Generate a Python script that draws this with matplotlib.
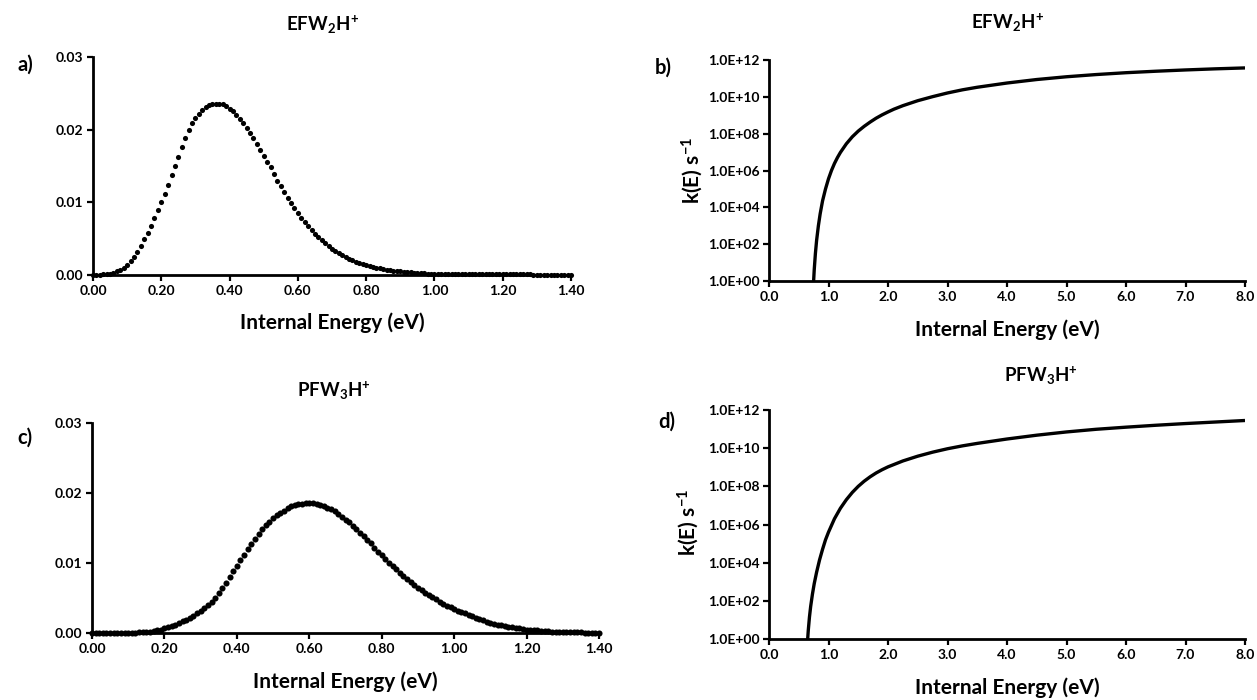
import matplotlib
matplotlib.use("Agg")
import matplotlib.pyplot as plt
import numpy as np
from matplotlib.ticker import FuncFormatter, FixedLocator, NullLocator

plt.rcParams['font.family'] = ['Lato', 'DejaVu Sans']
plt.rcParams['font.weight'] = 'bold'
plt.rcParams['mathtext.fontset'] = 'custom'
plt.rcParams['mathtext.rm'] = 'Lato:bold'
plt.rcParams['mathtext.it'] = 'Lato:bold'
plt.rcParams['mathtext.bf'] = 'Lato:bold'
plt.rcParams['mathtext.default'] = 'rm'

# internal energy distributions, 0.00 .. 1.40 eV in 0.01 eV steps
energy_grid = np.round(np.arange(0, 141) * 0.01, 2)

efw2h_pop = [
    0.0000, 0.0000, 0.0000, 0.0001, 0.0001, 0.0002, 0.0003, 0.0005, 0.0007, 0.0010,
    0.0014, 0.0019, 0.0025, 0.0032, 0.0040, 0.0049, 0.0058, 0.0068, 0.0078, 0.0089,
    0.0100, 0.0112, 0.0124, 0.0137, 0.0150, 0.0163, 0.0176, 0.0188, 0.0200, 0.0209,
    0.0216, 0.0222, 0.0227, 0.0231, 0.0234, 0.0235, 0.0236, 0.0236, 0.0235, 0.0232,
    0.0229, 0.0225, 0.0220, 0.0215, 0.0209, 0.0202, 0.0195, 0.0188, 0.0180, 0.0172,
    0.0164, 0.0156, 0.0148, 0.0139, 0.0130, 0.0122, 0.0114, 0.0106, 0.0099, 0.0092,
    0.0085, 0.0079, 0.0073, 0.0067, 0.0062, 0.0057, 0.0052, 0.0048, 0.0044, 0.0040,
    0.0036, 0.0033, 0.0030, 0.0027, 0.0025, 0.0022, 0.0020, 0.0018, 0.0017, 0.0015,
    0.0014, 0.0012, 0.0011, 0.0010, 0.0009, 0.0008, 0.0007, 0.0007, 0.0006, 0.0005,
    0.0005, 0.0004, 0.0004, 0.0004, 0.0003, 0.0003, 0.0003, 0.0003, 0.0002, 0.0002,
    0.0002, 0.0002, 0.0002, 0.0002, 0.0002, 0.0002, 0.0002, 0.0002, 0.0002, 0.0002,
    0.0002, 0.0002, 0.0001, 0.0001, 0.0001, 0.0001, 0.0001, 0.0001, 0.0001, 0.0001,
    0.0001, 0.0001, 0.0001, 0.0001, 0.0001, 0.0001, 0.0001, 0.0001, 0.0001, 0.0000,
    0.0000, 0.0000, 0.0000, 0.0000, 0.0000, 0.0000, 0.0000, 0.0000, 0.0000, 0.0000,
    0.0000,
]

pfw3h_pop = [
    0.0000, 0.0000, 0.0000, 0.0000, 0.0000, 0.0000, 0.0000, 0.0000, 0.0000, 0.0000,
    0.0000, 0.0000, 0.0000, 0.0001, 0.0001, 0.0002, 0.0002, 0.0003, 0.0004, 0.0005,
    0.0007, 0.0008, 0.0010, 0.0012, 0.0014, 0.0017, 0.0019, 0.0022, 0.0025, 0.0028,
    0.0031, 0.0036, 0.0040, 0.0045, 0.0050, 0.0057, 0.0064, 0.0071, 0.0080, 0.0088,
    0.0096, 0.0104, 0.0112, 0.0120, 0.0127, 0.0134, 0.0141, 0.0148, 0.0154, 0.0159,
    0.0164, 0.0168, 0.0172, 0.0175, 0.0178, 0.0181, 0.0183, 0.0184, 0.0185, 0.0186,
    0.0186, 0.0186, 0.0185, 0.0183, 0.0181, 0.0179, 0.0177, 0.0174, 0.0170, 0.0166,
    0.0162, 0.0158, 0.0153, 0.0148, 0.0143, 0.0138, 0.0133, 0.0128, 0.0122, 0.0116,
    0.0111, 0.0106, 0.0100, 0.0096, 0.0091, 0.0086, 0.0082, 0.0077, 0.0073, 0.0069,
    0.0065, 0.0061, 0.0057, 0.0054, 0.0051, 0.0048, 0.0045, 0.0042, 0.0039, 0.0037,
    0.0034, 0.0032, 0.0030, 0.0028, 0.0026, 0.0024, 0.0022, 0.0020, 0.0018, 0.0016,
    0.0014, 0.0013, 0.0012, 0.0011, 0.0010, 0.0009, 0.0008, 0.0007, 0.0007, 0.0006,
    0.0005, 0.0005, 0.0004, 0.0004, 0.0003, 0.0003, 0.0003, 0.0002, 0.0002, 0.0002,
    0.0001, 0.0001, 0.0001, 0.0001, 0.0001, 0.0001, 0.0000, 0.0000, 0.0000, 0.0000,
    0.0000,
]

# RRKM rate constants, log10 k(E) in s^-1
efw2h_E = [0.75, 0.76, 0.78, 0.80, 0.83, 0.86, 0.90, 0.95, 1.00, 1.05, 1.10, 1.15,
           1.20, 1.30, 1.40, 1.50, 1.60, 1.70, 1.80, 1.90, 2.00, 2.10, 2.25, 2.50,
           2.75, 3.00, 3.25, 3.50, 4.00, 4.50, 5.00, 5.50, 6.00, 6.50, 7.00, 7.50,
           8.00]
efw2h_logk = [0.0, 0.6, 1.5, 2.2, 3.0, 3.65, 4.35, 5.0, 5.55, 6.0, 6.38, 6.7,
              6.98, 7.45, 7.83, 8.14, 8.4, 8.63, 8.84, 9.02, 9.18, 9.33, 9.52, 9.79,
              10.01, 10.21, 10.38, 10.52, 10.75, 10.94, 11.09, 11.21, 11.31, 11.39, 11.46, 11.52,
              11.57]

pfw3h_E = [0.65, 0.66, 0.68, 0.70, 0.73, 0.76, 0.80, 0.85, 0.90, 0.95, 1.00, 1.10,
           1.20, 1.30, 1.40, 1.50, 1.60, 1.70, 1.80, 1.90, 2.00, 2.25, 2.50, 2.75,
           3.00, 3.25, 3.50, 4.00, 4.50, 5.00, 5.50, 6.00, 6.50, 7.00, 7.50, 8.00]
pfw3h_logk = [0.0, 0.45, 1.15, 1.7, 2.35, 2.9, 3.5, 4.15, 4.7, 5.2, 5.6, 6.3,
              6.85, 7.3, 7.68, 8.0, 8.27, 8.5, 8.7, 8.87, 9.02, 9.33, 9.58, 9.79,
              9.97, 10.12, 10.25, 10.48, 10.68, 10.85, 10.99, 11.1, 11.2, 11.29, 11.37, 11.45]

titles = ['$EFW_2H^{+}$', '$EFW_2H^{+}$', '$PFW_3H^{+}$', '$PFW_3H^{+}$']
panel_tags = ['a)', 'b)', 'c)', 'd)']

W, H = 1257, 700
fig = plt.figure(figsize=(W / 100, H / 100), dpi=100)


def px_axes(x0, y0, x1, y1):
    # pixel box (top-left origin) -> figure axes
    return fig.add_axes([x0 / W, 1 - y1 / H, (x1 - x0) / W, (y1 - y0) / H])


def px_text(x, y, s, **kw):
    fig.text(x / W, 1 - y / H, s, ha='center', va='center', fontweight='bold', **kw)


def style(ax):
    for s in ['top', 'right']:
        ax.spines[s].set_visible(False)
    for s in ['left', 'bottom']:
        ax.spines[s].set_linewidth(2)
    ax.tick_params(direction='out', length=4, width=1.6, labelsize=10, pad=3)


ax_a = px_axes(93, 57, 571, 275)
ax_b = px_axes(769, 60, 1245, 281)
ax_c = px_axes(92, 423, 599, 633)
ax_d = px_axes(769, 410, 1245, 639)

for ax, pop, ms in [(ax_a, efw2h_pop, 3.7), (ax_c, pfw3h_pop, 4.4)]:
    ax.plot(energy_grid, pop, 'o', color='black', ms=ms, mew=0, clip_on=False)
    ax.set_xlim(0, 1.4)
    ax.set_ylim(0, 0.03)
    ax.set_xticks(np.arange(0, 1.41, 0.2))
    ax.set_yticks([0, 0.01, 0.02, 0.03])
    ax.xaxis.set_major_formatter(FuncFormatter(lambda v, p: f'{v:.2f}'))
    ax.yaxis.set_major_formatter(FuncFormatter(lambda v, p: f'{v:.2f}'))
    style(ax)

for ax, E, lk in [(ax_b, efw2h_E, efw2h_logk), (ax_d, pfw3h_E, pfw3h_logk)]:
    ax.plot(E, 10 ** np.array(lk), color='black', lw=2.4, solid_capstyle='butt',
            solid_joinstyle='round')
    ax.set_yscale('log')
    ax.set_xlim(0, 8)
    ax.set_ylim(1, 1e12)
    ax.set_xticks(np.arange(0, 8.1, 1.0))
    ax.xaxis.set_major_formatter(FuncFormatter(lambda v, p: f'{v:.1f}'))
    ax.yaxis.set_major_locator(FixedLocator([10.0 ** k for k in range(0, 13, 2)]))
    ax.yaxis.set_minor_locator(NullLocator())
    ax.yaxis.set_major_formatter(FuncFormatter(lambda v, p: f'{v:.1E}'))
    style(ax)

# axis titles, panel tags and axis labels at their pixel spots
for (tx, ty), t in zip([(323, 25), (1008, 23), (334, 391), (1041, 376)], titles):
    px_text(tx, ty, t, fontsize=13.5)
for (tx, ty), t in zip([(25, 65), (663, 68), (25, 438), (667, 422)], panel_tags):
    px_text(tx, ty, t, fontsize=14.5)
for (tx, ty) in [(332, 323), (1007, 330), (345, 682), (1007, 688)]:
    px_text(tx, ty, 'Internal Energy (eV)', fontsize=15)
for (tx, ty) in [(692, 170), (688, 522)]:
    px_text(tx, ty, 'k(E) s$^{-1}$', fontsize=15, rotation=90)

fig.savefig('out.png', dpi=100)
